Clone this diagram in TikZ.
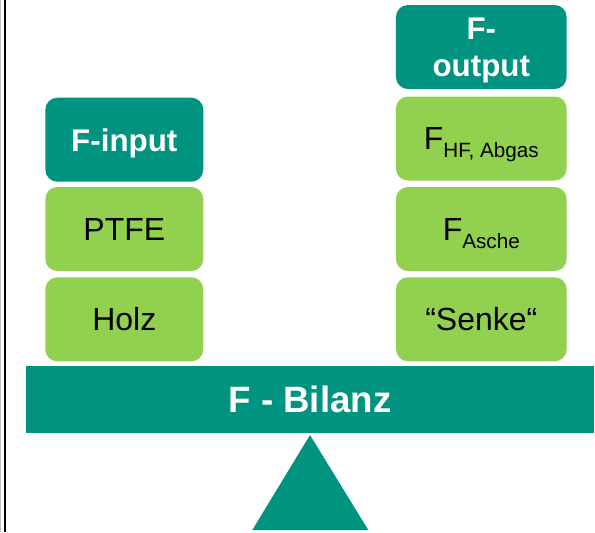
\documentclass[tikz,border=0pt]{standalone}
\usepackage{fontspec}
\setmainfont{Liberation Sans}

\definecolor{balteal}{RGB}{0,148,128}
\definecolor{balgreen}{RGB}{146,208,80}

\tikzset{
  headbox/.style={fill=balteal, text=white, rounded corners=9pt, inner sep=0pt,
    minimum height=63pt,
    font=\fontsize{23.5}{27.8}\selectfont\bfseries},
  itembox/.style={fill=balgreen, text=black, rounded corners=9pt, inner sep=0pt,
    minimum height=63pt, font=\fontsize{24}{28}\selectfont},
  oneline/.style={text height=17pt, text depth=0pt},
  leftcol/.style={minimum width=118.5pt},
  rightcol/.style={minimum width=128pt},
}

% small lowered index next to an F
\newcommand{\findex}[1]{F\raisebox{-5.8pt}[0pt][0pt]{\fontsize{15.5}{15.5}\selectfont #1}}
% two centred lines on the font's own baseline distance
\newcommand{\twolines}[2]{\vbox{\halign{\hfil##\hfil\cr #1\cr #2\cr}}}

\begin{document}
\begin{tikzpicture}[x=0.75pt,y=-0.75pt]
  \useasboundingbox (0,0) rectangle (595,532);

  % Column centres and row centres (pixels)
  \def\xl{124.3}
  \def\xr{481.3}
  \def\ya{47}
  \def\yb{138.5}
  \def\yc{229}
  \def\yd{319.3}

  % Frame line on the left
  \draw[black!25, line width=0.75pt] (0.5,0) -- (0.5,532);
  \draw[black, line width=1.1pt] (4.8,0) -- (4.8,532);

  % Input side
  \node[headbox, leftcol, oneline] (input) at (\xl,139.7) {F-input};
  \node[itembox, leftcol, oneline] (ptfe) at (\xl,\yc) {PTFE};
  \node[itembox, leftcol, oneline] (holz) at (\xl,\yd) {Holz};

  % Output side
  \node[headbox, rightcol, text depth=0pt] (output) at (\xr,\ya)
    {\twolines{F-}{output}};
  \node[itembox, rightcol, oneline] (abgas) at (\xr,\yb) {\findex{HF, Abgas}};
  \node[itembox, rightcol, oneline] (asche) at (\xr,\yc) {\findex{Asche}};
  \node[itembox, rightcol, oneline] (senke) at (\xr,\yd) {“Senke“};

  % Beam of the balance
  \node[fill=balteal, text=white, inner sep=0pt, minimum width=426pt,
    minimum height=50pt, text height=19.5pt, text depth=0pt,
    font=\fontsize{27.5}{32}\selectfont\bfseries]
    (bilanz) at (310,399.8) {F - Bilanz};

  % Pivot
  \fill[balteal] (310,435) -- (252.3,530) -- (368.3,530) -- cycle;

\end{tikzpicture}
\end{document}
